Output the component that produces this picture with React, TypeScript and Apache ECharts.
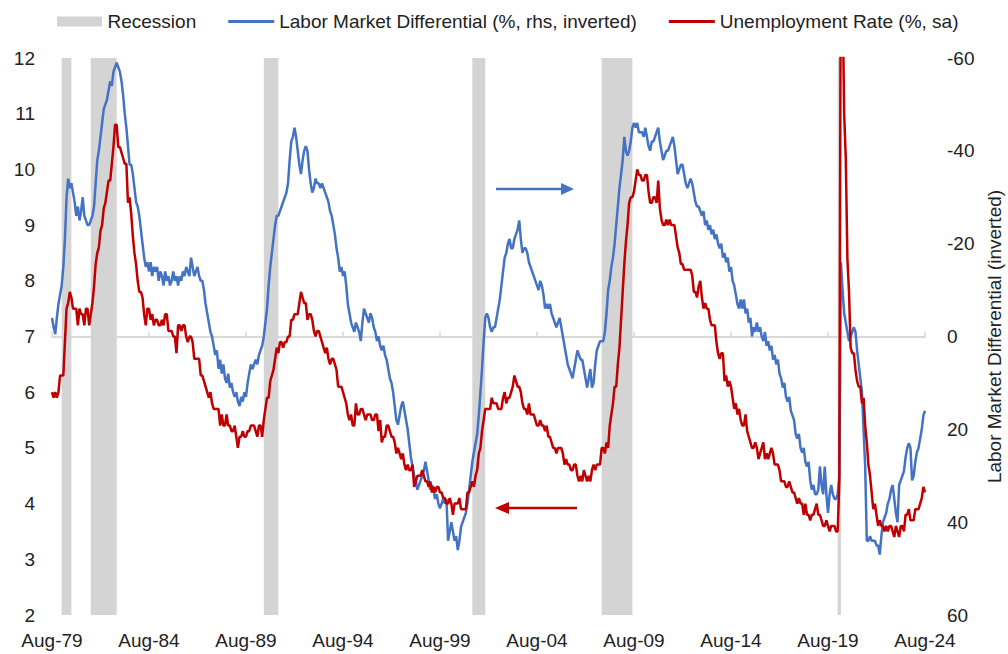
import { useEffect, useRef } from 'react';
import * as echarts from 'echarts';

const FONT = '"Liberation Sans", Arial, Helvetica, sans-serif';
const MONTH_NAMES = ['Jan', 'Feb', 'Mar', 'Apr', 'May', 'Jun', 'Jul', 'Aug', 'Sep', 'Oct', 'Nov', 'Dec'];
const START_YEAR = 1979;
const START_MONTH = 7; // Aug
const MONTH_COUNT = 541; // Aug-79 .. Aug-24

const categories: string[] = [];
for (let i = 0; i < MONTH_COUNT; i++) {
  const k = START_MONTH + i;
  const y = START_YEAR + Math.floor(k / 12);
  categories.push(MONTH_NAMES[k % 12] + '-' + String(y % 100).padStart(2, '0'));
}

// Unemployment rate (%, sa), Aug-79 .. Aug-24
const unemploymentRate = [
  6.0, 5.9, 6.0, 5.9, 6.0,
  6.3, 6.3, 6.3, 6.9, 7.5, 7.6, 7.8, 7.7, 7.5, 7.5, 7.5, 7.2,
  7.5, 7.4, 7.4, 7.2, 7.5, 7.5, 7.2, 7.4, 7.6, 7.9, 8.3, 8.5,
  8.6, 8.9, 9.0, 9.3, 9.4, 9.6, 9.8, 9.8, 10.1, 10.4, 10.8, 10.8,
  10.4, 10.4, 10.3, 10.2, 10.1, 10.1, 9.4, 9.5, 9.2, 8.8, 8.5, 8.3,
  8.0, 7.8, 7.8, 7.7, 7.4, 7.2, 7.5, 7.5, 7.3, 7.4, 7.2, 7.3,
  7.3, 7.2, 7.2, 7.3, 7.2, 7.4, 7.4, 7.1, 7.1, 7.1, 7.0, 7.0,
  6.7, 7.2, 7.2, 7.1, 7.2, 7.2, 7.0, 6.9, 7.0, 7.0, 6.9, 6.6,
  6.6, 6.6, 6.6, 6.3, 6.3, 6.2, 6.1, 6.0, 5.9, 6.0, 5.8, 5.7,
  5.7, 5.7, 5.7, 5.4, 5.6, 5.4, 5.4, 5.6, 5.4, 5.4, 5.3, 5.3,
  5.4, 5.2, 5.0, 5.2, 5.2, 5.3, 5.2, 5.2, 5.3, 5.3, 5.4, 5.4,
  5.4, 5.3, 5.2, 5.4, 5.4, 5.2, 5.5, 5.7, 5.9, 5.9, 6.2, 6.3,
  6.4, 6.6, 6.8, 6.7, 6.9, 6.9, 6.8, 6.9, 6.9, 7.0, 7.0, 7.3,
  7.3, 7.4, 7.4, 7.4, 7.6, 7.8, 7.7, 7.6, 7.6, 7.3, 7.4, 7.4,
  7.3, 7.1, 7.0, 7.1, 7.1, 7.0, 6.9, 6.8, 6.7, 6.8, 6.6, 6.5,
  6.6, 6.6, 6.5, 6.4, 6.1, 6.1, 6.1, 6.0, 5.9, 5.8, 5.6, 5.5,
  5.6, 5.4, 5.4, 5.8, 5.6, 5.6, 5.7, 5.7, 5.6, 5.5, 5.6, 5.6,
  5.6, 5.5, 5.5, 5.6, 5.6, 5.3, 5.5, 5.1, 5.2, 5.2, 5.4, 5.4,
  5.3, 5.2, 5.2, 5.1, 4.9, 5.0, 4.9, 4.8, 4.9, 4.7, 4.6, 4.7,
  4.6, 4.6, 4.7, 4.3, 4.4, 4.5, 4.5, 4.5, 4.6, 4.5, 4.4, 4.4,
  4.3, 4.4, 4.2, 4.3, 4.2, 4.3, 4.3, 4.2, 4.2, 4.1, 4.1, 4.0,
  4.0, 4.1, 4.0, 3.8, 4.0, 4.0, 4.0, 4.1, 3.9, 3.9, 3.9, 3.9,
  4.2, 4.2, 4.3, 4.4, 4.3, 4.5, 4.6, 4.9, 5.0, 5.3, 5.5, 5.7,
  5.7, 5.7, 5.7, 5.9, 5.8, 5.8, 5.8, 5.7, 5.7, 5.7, 5.9, 6.0,
  5.8, 5.9, 5.9, 6.0, 6.1, 6.3, 6.2, 6.1, 6.1, 6.0, 5.8, 5.7,
  5.7, 5.6, 5.8, 5.6, 5.6, 5.6, 5.5, 5.4, 5.4, 5.5, 5.4, 5.4,
  5.3, 5.4, 5.2, 5.2, 5.1, 5.0, 5.0, 4.9, 5.0, 5.0, 5.0, 4.9,
  4.7, 4.8, 4.7, 4.7, 4.6, 4.6, 4.7, 4.7, 4.5, 4.4, 4.5, 4.4,
  4.6, 4.5, 4.4, 4.5, 4.4, 4.6, 4.7, 4.6, 4.7, 4.7, 4.7, 5.0,
  5.0, 4.9, 5.1, 5.0, 5.4, 5.6, 5.8, 6.1, 6.1, 6.5, 6.8, 7.3,
  7.8, 8.3, 8.7, 9.0, 9.4, 9.5, 9.5, 9.6, 9.8, 10.0, 9.9, 9.9,
  9.8, 9.8, 9.9, 9.9, 9.6, 9.4, 9.4, 9.5, 9.5, 9.4, 9.8, 9.3,
  9.1, 9.0, 9.0, 9.1, 9.0, 9.1, 9.0, 9.0, 9.0, 8.8, 8.6, 8.5,
  8.3, 8.3, 8.2, 8.2, 8.2, 8.2, 8.2, 8.1, 7.8, 7.8, 7.7, 7.9,
  8.0, 7.7, 7.5, 7.6, 7.5, 7.5, 7.3, 7.2, 7.2, 7.2, 6.9, 6.7,
  6.6, 6.7, 6.7, 6.2, 6.3, 6.1, 6.2, 6.1, 5.9, 5.7, 5.8, 5.6,
  5.7, 5.5, 5.4, 5.4, 5.6, 5.3, 5.2, 5.1, 5.0, 5.0, 5.1, 5.0,
  4.8, 4.9, 5.0, 5.1, 4.8, 4.9, 4.8, 4.9, 5.0, 4.9, 4.7, 4.7,
  4.7, 4.6, 4.4, 4.4, 4.4, 4.3, 4.3, 4.4, 4.3, 4.2, 4.2, 4.1,
  4.0, 4.1, 4.0, 4.0, 3.8, 4.0, 3.8, 3.8, 3.7, 3.8, 3.8, 3.9,
  4.0, 3.8, 3.8, 3.7, 3.6, 3.6, 3.7, 3.6, 3.5, 3.6, 3.6, 3.6,
  3.5, 3.5, 4.4, 14.8, 13.2, 11.0, 10.2, 8.4, 7.8, 6.8, 6.7, 6.7,
  6.4, 6.2, 6.1, 6.1, 5.8, 5.9, 5.4, 5.1, 4.7, 4.5, 4.2, 3.9,
  4.0, 3.8, 3.6, 3.7, 3.6, 3.6, 3.5, 3.6, 3.5, 3.6, 3.6, 3.5,
  3.4, 3.6, 3.5, 3.4, 3.6, 3.6, 3.5, 3.8, 3.8, 3.9, 3.7, 3.7,
  3.7, 3.9, 3.9, 3.9, 4.0, 4.1, 4.3, 4.2,
];

// Labor market differential (%, right axis, inverted), Aug-79 .. Aug-24
const laborDifferential = [
  -4, -2, -0.5, -4, -7,
  -9, -11, -15, -21, -30, -34, -32, -33, -31, -29, -26, -28,
  -25, -27, -30, -26, -25, -24, -24, -25, -26, -28, -33, -38,
  -40, -43, -46, -49, -50, -51, -53, -55, -54, -57, -58, -59,
  -58, -57, -55, -52, -48, -45, -41, -37, -37, -35, -32, -29,
  -28, -26, -23, -20, -17, -15, -16, -14, -16, -13, -15, -14,
  -15, -12, -14, -13, -11, -14, -12, -13, -11, -12, -14, -12,
  -13, -11, -13, -12, -14, -13, -15, -14, -13, -17, -15, -13,
  -14, -15, -13, -12, -12, -10, -7, -5, -3, -1, 0, 2,
  4, 3, 7, 5, 8, 6, 9, 10, 8, 11, 10, 12,
  13, 12, 14, 15, 13, 14, 12, 13, 10, 8, 6, 7,
  6, 5, 6, 4, 3, 2, 0, -3, -6, -11, -15, -18,
  -21, -24, -26, -26, -27, -28, -29, -30, -31, -33, -38, -42,
  -43, -45, -43, -40, -37, -35, -38, -40, -41, -40, -36, -33,
  -31, -32, -34, -33, -33, -32, -33, -32, -31, -30, -29, -27,
  -26, -24, -22, -19, -17, -14, -15, -13, -14, -11, -7, -5,
  -3, -2, -1, -3, -2, -1, 1, -3, -6, -5, -4, -3,
  -5, -4, -2, -1, 1, 0, 2, 3, 2, 4, 5, 7,
  9, 10, 12, 15, 18, 19, 17, 15, 14, 16, 18, 20,
  23, 26, 28, 30, 31, 33, 32, 31, 30, 29, 27, 29,
  31, 33, 32, 33, 35, 34, 36, 37, 36, 35, 36, 35,
  44, 42, 40, 42, 44, 43, 46, 44, 41, 40, 39, 38,
  36, 33, 30, 27, 25, 23, 21, 17, 12, 7, 1, -4,
  -5, -4, -2, -1, -2, -2, -4, -6, -8, -11, -14, -17,
  -18, -20, -21, -19, -19, -21, -22, -23, -25, -21, -18, -19,
  -19, -18, -16, -15, -14, -13, -12, -11, -10, -12, -11, -9,
  -6, -7, -6, -7, -5, -4, -3, -2, -3, -4, -2, 0,
  2, 4, 6, 7, 8, 9, 7, 5, 3, 4, 5, 5,
  7, 9, 11, 9, 7, 11, 10, 6, 3, 2, 1, 1,
  1, -1, -5, -10, -12, -15, -17, -20, -24, -28, -32, -35,
  -38, -43, -40, -39, -40, -42, -45, -46, -45, -46, -44, -44,
  -44, -43, -45, -43, -41, -40, -42, -42, -43, -44, -45, -42,
  -40, -38, -39, -40, -40, -41, -42, -43, -41, -38, -35, -36,
  -37, -37, -35, -33, -32, -33, -34, -33, -31, -29, -28, -28,
  -27, -26, -27, -24, -25, -23, -24, -22, -23, -21, -22, -20,
  -19, -20, -17, -18, -16, -17, -14, -15, -12, -11, -9, -7,
  -6, -8, -6, -8, -5, -6, -3, -4, 0, -2, -1, -3,
  -1, -2, 0, 1, -1, 2, 1, 3, 2, 5, 4, 6,
  5, 8, 9, 11, 10, 13, 14, 13, 16, 17, 18, 21,
  22, 21, 24, 25, 24, 27, 28, 27, 31, 33, 32, 34,
  34, 33, 28, 32, 34, 28, 34, 38, 34, 32, 34, 35,
  35, 34, 30, -16, -10, -5, -3, -1, 1, 0, -1, -2,
  -1, 3, 6, 9, 12, 20, 28, 44, 44, 43, 44, 44,
  44, 45, 45, 47, 43, 40, 39, 38, 36, 35, 33, 32,
  35, 38, 40, 32, 31, 30, 29, 26, 24, 23, 24, 31,
  30, 27, 25, 24, 22, 20, 17, 16,
];

// Recession periods (start, end)
const recessionStarts = ['Feb-80', 'Aug-81', 'Jul-90', 'Apr-01', 'Dec-07', 'Feb-20'];
const recessionEnds = ['Aug-80', 'Dec-82', 'Apr-91', 'Dec-01', 'Jul-09', 'Apr-20'];

const LEFT_MIN = 2;
const LEFT_MAX = 12;
const LEFT_STEP = 1;
const RIGHT_MIN = -60;
const RIGHT_MAX = 60;
const RIGHT_STEP = 20;

const NAME_RECESSION = 'Recession';
const NAME_DIFF = 'Labor Market Differential (%, rhs, inverted)';
const NAME_UNEMP = 'Unemployment Rate (%, sa)';
const RIGHT_AXIS_NAME = 'Labor Market Differential (inverted)';

const BLUE = '#4472C4';
const RED = '#C00000';
const GRAY = '#d4d4d4';
const TEXT = '#222222';

export default function App() {
  const ref = useRef<HTMLDivElement>(null);

  useEffect(() => {
    document.body.style.margin = '0';
    if (!ref.current) return;
    const chart = echarts.init(ref.current, null, { renderer: 'svg' });

    const option: any = {
      animation: false,
      backgroundColor: '#ffffff',
      textStyle: { fontFamily: FONT },
      legend: {
        top: 12,
        left: 57,
        padding: 0,
        itemGap: 32,
        itemWidth: 46,
        itemHeight: 10,
        selectedMode: false,
        textStyle: { fontSize: 19, color: TEXT, fontFamily: FONT },
        data: [
          { name: NAME_RECESSION, icon: 'path://M0,0H45V10H0Z' },
          { name: NAME_DIFF, icon: 'path://M0,0H46V3H0Z' },
          { name: NAME_UNEMP, icon: 'path://M0,0H46V3H0Z' },
        ],
      },
      grid: { left: 52, right: 83, top: 58, bottom: 39, containLabel: false, outerBoundsMode: 'none' },
      xAxis: [
        {
          type: 'category',
          data: categories,
          boundaryGap: false,
          position: 'bottom',
          axisLine: { show: false, onZero: false },
          axisTick: { show: false },
          splitLine: { show: false },
          axisLabel: {
            interval: 59,
            margin: 16,
            fontSize: 19,
            color: TEXT,
            fontFamily: FONT,
            hideOverlap: false,
          },
        },
        {
          type: 'category',
          data: categories,
          boundaryGap: false,
          position: 'bottom',
          axisLine: {
            show: true,
            onZero: true,
            onZeroAxisIndex: 1,
            lineStyle: { color: '#d9d9d9', width: 2 },
          },
          axisTick: {
            show: true,
            inside: true,
            interval: 59,
            length: 5,
            lineStyle: { color: '#d9d9d9', width: 1.5 },
          },
          axisLabel: { show: false },
          splitLine: { show: false },
        },
      ],
      yAxis: [
        {
          type: 'value',
          min: LEFT_MIN,
          max: LEFT_MAX,
          interval: LEFT_STEP,
          position: 'left',
          axisLine: { show: false },
          axisTick: { show: false },
          splitLine: { show: false },
          axisLabel: { margin: 17, fontSize: 19, color: TEXT, fontFamily: FONT },
        },
        {
          type: 'value',
          min: RIGHT_MIN,
          max: RIGHT_MAX,
          interval: RIGHT_STEP,
          inverse: true,
          position: 'right',
          axisLine: { show: false },
          axisTick: { show: false },
          splitLine: { show: false },
          axisLabel: { margin: 22, fontSize: 19, color: TEXT, fontFamily: FONT },
          name: RIGHT_AXIS_NAME,
          nameLocation: 'middle',
          nameRotate: 90,
          nameGap: 60,
          nameTextStyle: { fontSize: 19, color: TEXT, fontFamily: FONT },
        },
      ],
      series: [
        {
          name: NAME_RECESSION,
          type: 'line',
          xAxisIndex: 0,
          yAxisIndex: 0,
          data: categories.map(() => null),
          symbol: 'none',
          silent: true,
          itemStyle: { color: GRAY },
          lineStyle: { color: GRAY },
          z: 1,
          markArea: {
            silent: true,
            itemStyle: { color: GRAY, opacity: 1 },
            data: recessionStarts.map((s, i) => [{ xAxis: s }, { xAxis: recessionEnds[i] }]),
          },
        },
        {
          name: NAME_DIFF,
          type: 'line',
          xAxisIndex: 0,
          yAxisIndex: 1,
          data: laborDifferential,
          symbol: 'none',
          itemStyle: { color: BLUE },
          lineStyle: { color: BLUE, width: 2.5 },
          z: 3,
        },
        {
          name: NAME_UNEMP,
          type: 'line',
          xAxisIndex: 0,
          yAxisIndex: 0,
          data: unemploymentRate,
          symbol: 'none',
          itemStyle: { color: RED },
          lineStyle: { color: RED, width: 2.5 },
          z: 4,
        },
      ],
      graphic: [
        {
          type: 'line',
          shape: { x1: 496, y1: 189, x2: 563, y2: 189 },
          style: { stroke: BLUE, lineWidth: 2.5 },
          z: 10,
        },
        {
          type: 'polygon',
          shape: { points: [[561, 183], [574, 189], [561, 195]] },
          style: { fill: BLUE },
          z: 10,
        },
        {
          type: 'line',
          shape: { x1: 507, y1: 508, x2: 577, y2: 508 },
          style: { stroke: RED, lineWidth: 2.5 },
          z: 10,
        },
        {
          type: 'polygon',
          shape: { points: [[509, 502], [495, 508], [509, 514]] },
          style: { fill: RED },
          z: 10,
        },
      ],
    };

    chart.setOption(option);
    return () => {
      chart.dispose();
    };
  }, []);

  return <div ref={ref} style={{ width: 1008, height: 654, background: '#fff' }} />;
}
